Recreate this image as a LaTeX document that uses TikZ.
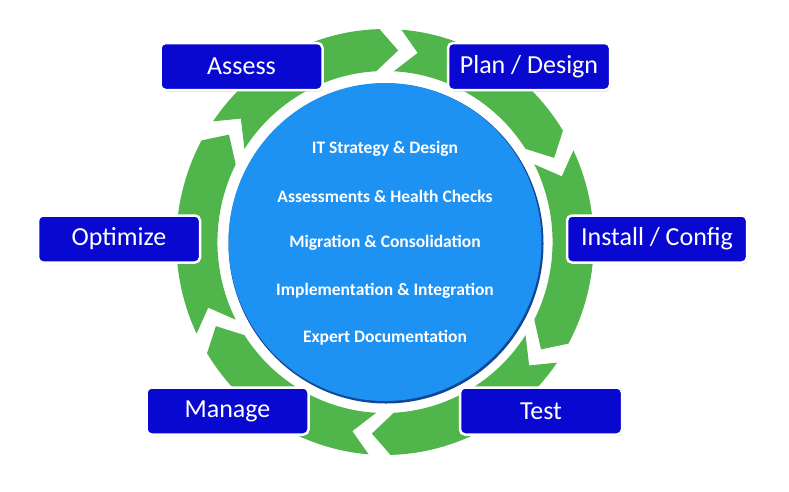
\documentclass[tikz,border=0pt]{standalone}
\usepackage{fontspec}
\setmainfont{Carlito}
\usetikzlibrary{shadows}
\definecolor{ringgreen}{RGB}{80,182,75}
\definecolor{boxblue}{RGB}{8,8,208}
\definecolor{discblue}{RGB}{30,146,242}
\definecolor{discdark}{RGB}{18,70,150}
\tikzset{
  stagebox/.style={rounded corners=5pt, fill=boxblue, draw=white, line width=2.5pt,
    text=white, font=\fontsize{26}{30}\selectfont, minimum height=47pt,
    minimum width=162pt, inner sep=0pt,
    drop shadow={shadow xshift=1pt, shadow yshift=-1.5pt, opacity=0.35}},
  discline/.style={text=white, font=\fontsize{17.5}{20}\selectfont\bfseries}
}
\begin{document}
\begin{tikzpicture}[x=1pt,y=-1pt]
\useasboundingbox (0,0) rectangle (789,491);
\def\cx{385}\def\cy{242}\def\sx{0.98}
\def\Ro{213}\def\Ri{171}\def\Rm{192}
% ring of six chevron arrows (clockwise)
\foreach \k in {0,...,5} {
  \pgfmathsetmacro\T{86-60*\k}
  \pgfmathsetmacro\S{\T+60}
  \pgfmathsetmacro\aA{\S-0.5}
  \pgfmathsetmacro\aB{\T+5.5}
  \pgfmathsetmacro\aC{\T+7}
  \pgfmathsetmacro\aD{\S+1}
  \pgfmathsetmacro\aE{\S-6}
  \fill[ringgreen]
    plot[domain=\aA:\aB, samples=30] ({\cx+\sx*\Ro*cos(\x)},{\cy-\Ro*sin(\x)})
    -- ({\cx+\sx*\Rm*cos(\T)},{\cy-\Rm*sin(\T)})
    -- plot[domain=\aC:\aD, samples=30] ({\cx+\sx*\Ri*cos(\x)},{\cy-\Ri*sin(\x)})
    -- ({\cx+\sx*\Rm*cos(\aE)},{\cy-\Rm*sin(\aE)}) -- cycle;
}
% central disc
\fill[discdark] (386,243.5) ellipse [x radius=157.5pt, y radius=160pt];
\fill[discblue] (385,242) ellipse [x radius=156.5pt, y radius=159pt];
\node[discline] (l1) at (385,149) {IT Strategy \& Design};
\node[discline] (l2) at (385,196) {Assessments \& Health Checks};
\node[discline] (l3) at (385,243) {Migration \& Consolidation};
\node[discline] (l4) at (385,291) {Implementation \& Integration};
\node[discline] (l5) at (385,338) {Expert Documentation};
% stage boxes
\node[stagebox] (assess) at (241.5,66.5) {Assess};
\node[stagebox] (plan) at (529,66.5) {Plan / Design};
\node[stagebox] (optimize) at (119,239) {Optimize};
\node[stagebox, minimum width=180pt] (install) at (657,239) {Install / Config};
\node[stagebox] (manage) at (227.5,411) {Manage};
\node[stagebox] (test) at (541,411) {Test};
\end{tikzpicture}
\end{document}
